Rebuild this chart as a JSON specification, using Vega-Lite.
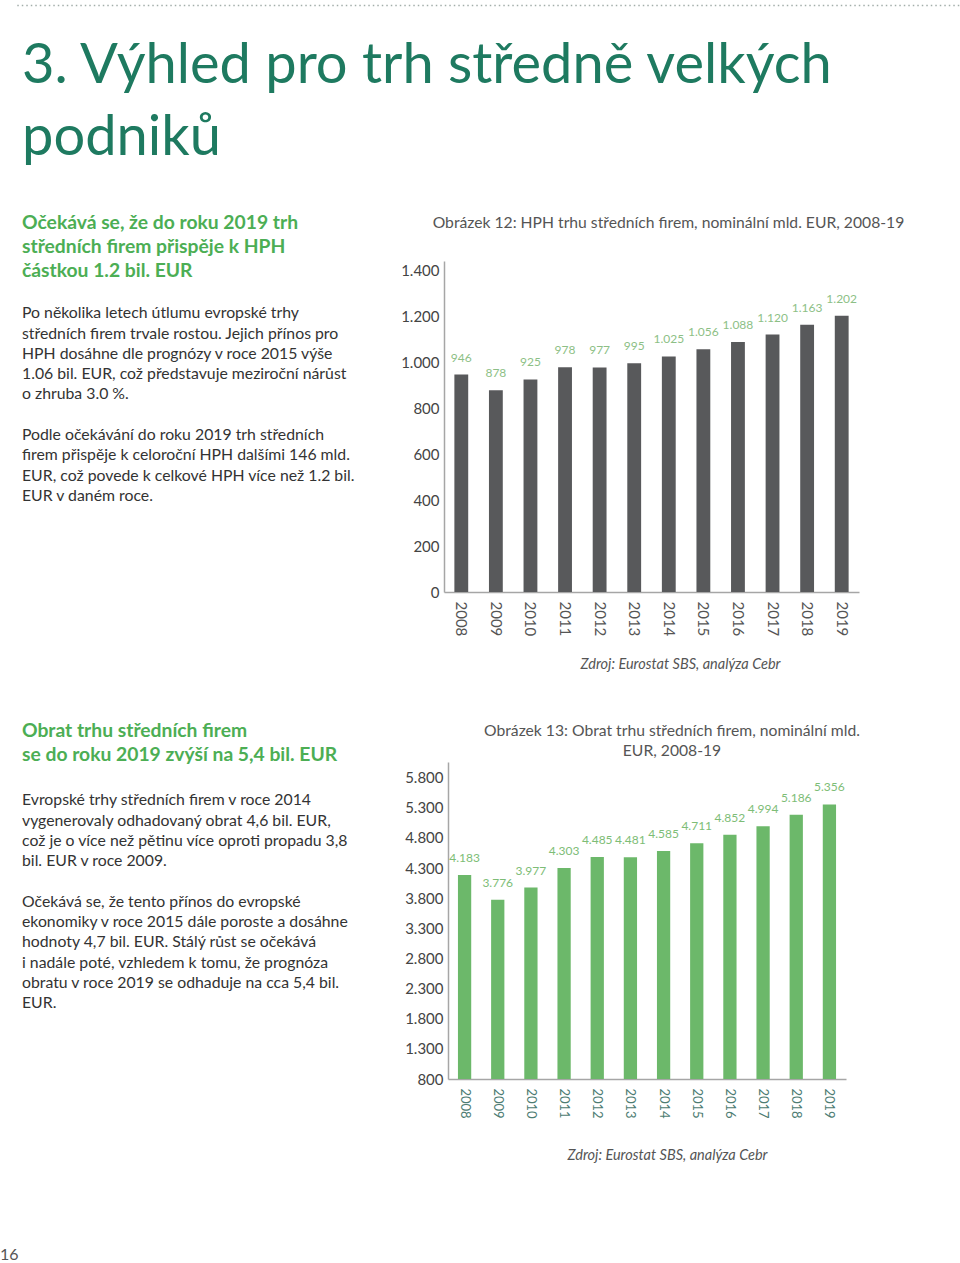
{
  "$schema": "https://vega.github.io/schema/vega-lite/v6.json",
  "background": "white",
  "padding": {"top": 4, "left": 0, "right": 0, "bottom": 0},
  "spacing": 47,
  "config": {
    "view": {"stroke": null},
    "font": "Lato",
    "locale": {"number": {"decimal": ",", "thousands": ".", "grouping": [3], "currency": ["", ""]}},
    "axis": {"labelFont": "Lato", "titleFont": "Lato", "grid": false, "ticks": false},
    "title": {"font": "Lato", "subtitleFont": "Lato"}
  },
  "vconcat": [
    {
      "width": 960,
      "height": 1,
      "data": {"values": [{"part": "rule"}]},
      "mark": {"type": "rule", "strokeDash": [1.5, 3], "strokeWidth": 1.5, "color": "#a3aeaa"},
      "encoding": {
        "x": {"datum": 0.018, "type": "quantitative", "scale": {"domain": [0, 1]}, "axis": null},
        "x2": {"datum": 1}
      },
      "title": {
        "text": ["3. Výhled pro trh středně velkých", "podniků"],
        "orient": "bottom",
        "anchor": "start",
        "dx": 22,
        "fontSize": 56,
        "fontWeight": "normal",
        "color": "#1e7a60",
        "lineHeight": 72,
        "offset": 33
      }
    },
    {
      "spacing": 20,
      "hconcat": [
        {
          "width": 380,
          "height": 414,
          "data": {"values": []},
          "mark": "text",
          "title": {
            "text": ["Očekává se, že do roku 2019 trh", "středních firem přispěje k HPH", "částkou 1.2 bil. EUR"],
            "subtitle": [
              "Po několika letech útlumu evropské trhy",
              "středních firem trvale rostou. Jejich přínos pro",
              "HPH dosáhne dle prognózy v roce 2015 výše",
              "1.06 bil. EUR, což představuje meziroční nárůst",
              "o zhruba 3.0 %.",
              "\u200b",
              "Podle očekávání do roku 2019 trh středních",
              "firem přispěje k celoroční HPH dalšími 146 mld.",
              "EUR, což povede k celkové HPH více než 1.2 bil.",
              "EUR v daném roce."
            ],
            "orient": "bottom",
            "anchor": "start",
            "dx": 22,
            "fontSize": 19.3,
            "fontWeight": "bold",
            "color": "#4cae54",
            "lineHeight": 24,
            "subtitleFontSize": 15.8,
            "subtitleColor": "#333333",
            "subtitleLineHeight": 20.3,
            "subtitlePadding": 25,
            "offset": -461
          }
        },
        {
          "width": 415,
          "height": 331,
          "data": {"values": [
            {"year": "2008", "value": 946},
            {"year": "2009", "value": 878},
            {"year": "2010", "value": 925},
            {"year": "2011", "value": 978},
            {"year": "2012", "value": 977},
            {"year": "2013", "value": 995},
            {"year": "2014", "value": 1025},
            {"year": "2015", "value": 1056},
            {"year": "2016", "value": 1088},
            {"year": "2017", "value": 1120},
            {"year": "2018", "value": 1163},
            {"year": "2019", "value": 1202}
          ]},
          "title": {
            "text": "Obrázek 12: HPH trhu středních firem, nominální mld. EUR, 2008-19",
            "fontSize": 15.7,
            "fontWeight": "normal",
            "color": "#555555",
            "anchor": "middle",
            "frame": "group",
            "dx": 17,
            "offset": 29
          },
          "encoding": {
            "x": {
              "field": "year",
              "type": "nominal",
              "sort": null,
              "scale": {"paddingInner": 0.6, "paddingOuter": 0.3},
              "axis": {
                "title": "Zdroj: Eurostat SBS, analýza Cebr",
                "labelAngle": 90,
                "labelFontSize": 15,
                "labelColor": "#555555",
                "labelPadding": 9,
                "domainColor": "#a6a6a6",
                "domainWidth": 1.5,
                "titleFontStyle": "italic",
                "titleFontWeight": "normal",
                "titleFontSize": 14.5,
                "titleColor": "#555555",
                "titlePadding": 22,
                "titleX": 236
              }
            },
            "y": {
              "field": "value",
              "type": "quantitative",
              "scale": {"domain": [0, 1440], "nice": false},
              "axis": {
                "title": null,
                "values": [0, 200, 400, 600, 800, 1000, 1200, 1400],
                "format": ",d",
                "labelFontSize": 15,
                "labelColor": "#444444",
                "labelPadding": 5,
                "domainColor": "#a6a6a6",
                "domainWidth": 1.5
              }
            }
          },
          "layer": [
            {"mark": {"type": "bar", "color": "#58595b"}},
            {
              "mark": {"type": "text", "dy": -17, "baseline": "middle", "fontSize": 12, "color": "#8dbf86"},
              "encoding": {"text": {"field": "value", "type": "quantitative", "format": ",d"}}
            }
          ]
        }
      ]
    },
    {
      "spacing": 20,
      "hconcat": [
        {
          "width": 384,
          "height": 1,
          "data": {"values": []},
          "mark": "text",
          "title": {
            "text": ["Obrat trhu středních firem", "se do roku 2019 zvýší na 5,4 bil. EUR"],
            "subtitle": [
              "Evropské trhy středních firem v roce 2014",
              "vygenerovaly odhadovaný obrat 4,6 bil. EUR,",
              "což je o více než pětinu více oproti propadu 3,8",
              "bil. EUR v roce 2009.",
              "\u200b",
              "Očekává se, že tento přínos do evropské",
              "ekonomiky v roce 2015 dále poroste a dosáhne",
              "hodnoty 4,7 bil. EUR. Stálý růst se očekává",
              "i nadále poté, vzhledem k tomu, že prognóza",
              "obratu v roce 2019 se odhaduje na cca 5,4 bil.",
              "EUR."
            ],
            "orient": "bottom",
            "anchor": "start",
            "dx": 22,
            "fontSize": 19.3,
            "fontWeight": "bold",
            "color": "#4cae54",
            "lineHeight": 24,
            "subtitleFontSize": 15.8,
            "subtitleColor": "#333333",
            "subtitleLineHeight": 20.3,
            "subtitlePadding": 28,
            "offset": -41
          }
        },
        {
          "width": 398,
          "height": 317,
          "data": {"values": [
            {"year": "2008", "value": 4183},
            {"year": "2009", "value": 3776},
            {"year": "2010", "value": 3977},
            {"year": "2011", "value": 4303},
            {"year": "2012", "value": 4485},
            {"year": "2013", "value": 4481},
            {"year": "2014", "value": 4585},
            {"year": "2015", "value": 4711},
            {"year": "2016", "value": 4852},
            {"year": "2017", "value": 4994},
            {"year": "2018", "value": 5186},
            {"year": "2019", "value": 5356}
          ]},
          "title": {
            "text": ["Obrázek 13: Obrat trhu středních firem, nominální mld.", "EUR, 2008-19"],
            "lineHeight": 20,
            "fontSize": 15.7,
            "fontWeight": "normal",
            "color": "#555555",
            "anchor": "middle",
            "frame": "group",
            "dx": 25,
            "offset": 2
          },
          "encoding": {
            "x": {
              "field": "year",
              "type": "nominal",
              "sort": null,
              "scale": {"paddingInner": 0.6, "paddingOuter": 0.3},
              "axis": {
                "title": "Zdroj: Eurostat SBS, analýza Cebr",
                "labelAngle": 90,
                "labelFontSize": 13,
                "labelColor": "#4d7c72",
                "labelPadding": 9,
                "domainColor": "#a6a6a6",
                "domainWidth": 1.5,
                "titleFontStyle": "italic",
                "titleFontWeight": "normal",
                "titleFontSize": 14.5,
                "titleColor": "#555555",
                "titlePadding": 30,
                "titleX": 219
              }
            },
            "y": {
              "field": "value",
              "type": "quantitative",
              "scale": {"domain": [800, 6060], "nice": false, "zero": false},
              "axis": {
                "title": null,
                "values": [800, 1300, 1800, 2300, 2800, 3300, 3800, 4300, 4800, 5300, 5800],
                "format": ",d",
                "labelFontSize": 15,
                "labelColor": "#444444",
                "labelPadding": 5,
                "domainColor": "#a6a6a6",
                "domainWidth": 1.5
              }
            }
          },
          "layer": [
            {"mark": {"type": "bar", "color": "#6cb86a"}, "encoding": {"y2": {"datum": 800}}},
            {
              "mark": {"type": "text", "dy": -17, "baseline": "middle", "fontSize": 12, "color": "#7dbd76"},
              "encoding": {"text": {"field": "value", "type": "quantitative", "format": ",d"}}
            }
          ]
        }
      ]
    },
    {
      "width": 20,
      "height": 36,
      "data": {"values": []},
      "mark": "text",
      "title": {
        "text": "16",
        "orient": "bottom",
        "anchor": "start",
        "fontSize": 16,
        "fontWeight": "normal",
        "color": "#555555",
        "offset": 2
      }
    }
  ]
}
